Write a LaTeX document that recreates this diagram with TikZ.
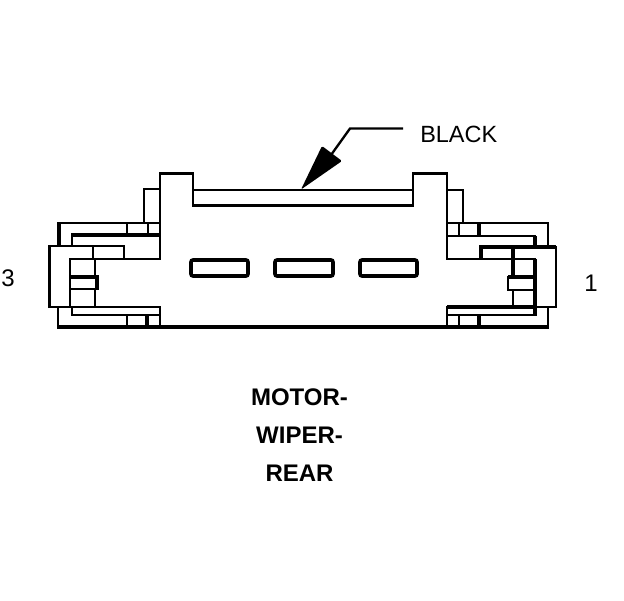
\documentclass[tikz,border=0pt]{standalone}
\usepackage{fontspec}
\setmainfont{Liberation Sans}
\tikzset{
	wall/.style={line width=1.75pt, line cap=rect, color=black},
	heavy/.style={line width=2.6pt, line cap=butt, color=black},
	slot/.style={line width=2.7pt, rounded corners=1.5pt, color=black},
	callout/.style={font=\fontsize{17.6pt}{20pt}\selectfont, inner sep=0pt},
	title/.style={font=\fontsize{18pt}{20pt}\selectfont\bfseries, inner sep=0pt},
}
\begin{document}
\begin{tikzpicture}[x=0.75pt, y=-0.75pt]
	\useasboundingbox[fill=white] (0, 0) rectangle (624, 600);

	%%%%% BODY %%%%%
	\draw[wall] (160, 259) -- (160, 173.5) -- (193, 173.5) -- (193, 205.5) -- (413, 205.5) -- (413, 173.5) -- (447, 173.5) -- (447, 259);
	\draw[wall] (193, 190) -- (413, 190);
	\draw[heavy] (57, 327) -- (549, 327);
	\draw[wall] (160, 307) -- (160, 327);
	\draw[wall] (447, 307) -- (447, 327);

	\draw[slot] (191, 260) rectangle (248, 276);
	\draw[slot] (275, 260) rectangle (333, 276);
	\draw[slot] (360, 260) rectangle (417, 276);

	%%%%% LEFT LATCH %%%%%
	\draw[wall] (160, 189) -- (144, 189) -- (144, 223);
	\draw[wall] (72, 246) -- (72, 235);
	\draw[heavy] (160, 235) -- (71, 235);
	\draw[heavy] (59, 246) -- (59, 222);
	\draw[wall] (59, 223) -- (160, 223);
	\draw[wall] (127, 223) -- (127, 235);
	\draw[wall] (148, 223) -- (148, 235);
	\draw[heavy] (49.5, 308) -- (49.5, 245);
	\draw[wall] (49, 246) -- (124, 246) -- (124, 259);
	\draw[wall] (93, 246) -- (93, 259);
	\draw[wall] (160, 259) -- (70, 259) -- (70, 307);
	\draw[wall] (95, 259) -- (95, 277);
	\draw[wall] (95, 289) -- (95, 307);
	\draw[heavy] (70, 277) -- (97, 277) -- (97, 290);
	\draw[wall] (97, 289) -- (70, 289);
	\draw[wall] (49, 307) -- (160, 307);
	\draw[wall] (72, 307) -- (72, 315) -- (160, 315);
	\draw[wall] (58, 307) -- (58, 327);
	\draw[wall] (127, 315) -- (127, 327);
	\draw[heavy] (147, 315) -- (147, 327);

	%%%%% RIGHT LATCH %%%%%
	\draw[wall] (447, 190) -- (463, 190) -- (463, 223);
	\draw[wall] (447, 223) -- (548, 223) -- (548, 247);
	\draw[wall] (447, 236) -- (535, 236);
	\draw[heavy] (535, 236) -- (535, 247);
	\draw[wall] (459, 223) -- (459, 236);
	\draw[heavy] (479, 223) -- (479, 236);
	\draw[heavy] (481, 259) -- (481, 247) -- (556, 247);
	\draw[wall] (556, 247) -- (556, 307) -- (535, 307);
	\draw[wall] (447, 259) -- (535, 259);
	\draw[heavy] (535, 259) -- (535, 316);
	\draw[heavy] (513, 247) -- (513, 277);
	\draw[wall] (513, 290) -- (513, 307);
	\draw[heavy] (535, 277) -- (508, 277);
	\draw[wall] (508, 277) -- (508, 290) -- (535, 290);
	\draw[heavy] (447, 307) -- (535, 307);
	\draw[wall] (447, 315) -- (535, 315);
	\draw[wall] (548, 307) -- (548, 327);
	\draw[wall] (459, 315) -- (459, 327);
	\draw[heavy] (479, 315) -- (479, 327);

	%%%%% LABELS %%%%%
	\node[callout, anchor=west] (black) at (420, 134) {BLACK};
	\coordinate (elbow) at (350, 128.5);
	\coordinate (tail) at (403, 128.5);
	\coordinate (neck) at (331, 155);
	\draw[wall, line cap=butt] (tail) -- (elbow) -- (neck);
	\fill[black, rounded corners=1pt] (301, 189.5) -- (322, 146) -- (342, 161) -- cycle;

	\node[callout, font=\fontsize{18pt}{20pt}\selectfont] (pinthree) at (8, 278) {3};
	\node[callout, font=\fontsize{18pt}{20pt}\selectfont] (pinone) at (591, 283) {1};
	\node[title] (motor) at (299.5, 397) {MOTOR-};
	\node[title] (wiper) at (299.5, 435) {WIPER-};
	\node[title] (rear) at (299.5, 473) {REAR};
\end{tikzpicture}
\end{document}
